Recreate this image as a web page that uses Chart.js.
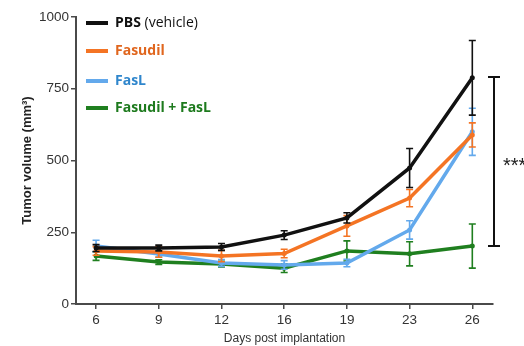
<!DOCTYPE html>
<html>
<head>
<meta charset="utf-8">
<script src="https://cdn.jsdelivr.net/npm/chart.js@4"></script>
<style>
  html, body { margin: 0; padding: 0; background: #fff; }
  #wrap { width: 524px; height: 346px; }
</style>
</head>
<body>
<div id="wrap"><canvas id="tumorChart" width="524" height="346"></canvas></div>
<script>
// days post implantation
var days = ['6', '9', '12', '16', '19', '23', '26'];

// mean tumor volume (mm3) and error per group
var pbs = [195, 195, 199, 240, 300, 474, 788];
var pbsErr = [12, 10, 12, 15, 18, 68, 130];
var fasudil = [185, 181, 167, 176, 272, 369, 589];
var fasudilErr = [15, 18, 20, 15, 36, 30, 42];
var fasl = [202, 174, 143, 136, 143, 258, 600];
var faslErr = [20, 10, 12, 15, 13, 32, 82];
var combo = [167, 146, 139, 125, 185, 175, 202];
var comboErr = [15, 8, 10, 15, 35, 42, 77];

// significance bracket between PBS and Fasudil + FasL at day 26
var bracketLow = 202;
var bracketHigh = 791;
var bracketLabel = '***';

var groups = [
    { label: 'PBS', extra: ' (vehicle)', data: pbs, err: pbsErr, color: '#111111', text: '#111111', order: 1 },
    { label: 'Fasudil', extra: '', data: fasudil, err: fasudilErr, color: '#f47424', text: '#e0661e', order: 2 },
    { label: 'FasL', extra: '', data: fasl, err: faslErr, color: '#63a9ec', text: '#2f86cc', order: 3 },
    { label: 'Fasudil + FasL', extra: '', data: combo, err: comboErr, color: '#1f7f1f', text: '#1d7a1d', order: 4 }
];

var axisColor = '#4a4a4a';

var errorBars = {
    id: 'errorBars',
    afterDatasetDraw: function(chart, args) {
        var ds = chart.data.datasets[args.index];
        var meta = args.meta;
        var y = chart.scales.y;
        var ctx = chart.ctx;
        ctx.save();
        ctx.strokeStyle = ds.borderColor;
        ctx.lineWidth = 1.6;
        meta.data.forEach(function(pt, i) {
            var v = ds.data[i].y;
            var e = ds.errors[i];
            var top = y.getPixelForValue(v + e);
            var bot = y.getPixelForValue(v - e);
            ctx.beginPath();
            ctx.moveTo(pt.x, top);
            ctx.lineTo(pt.x, bot);
            ctx.moveTo(pt.x - 3.5, top);
            ctx.lineTo(pt.x + 3.5, top);
            ctx.moveTo(pt.x - 3.5, bot);
            ctx.lineTo(pt.x + 3.5, bot);
            ctx.stroke();
        });
        ctx.restore();
    }
};

var extras = {
    id: 'extras',
    afterDraw: function(chart) {
        var ctx = chart.ctx;
        var area = chart.chartArea;
        var y = chart.scales.y;

        // legend in the upper left of the plot
        ctx.save();
        var rows = [23, 51, 81, 108];
        groups.forEach(function(g, i) {
            var ry = rows[i];
            ctx.fillStyle = g.color;
            ctx.fillRect(area.left + 10, ry - 2, 22, 4);
            ctx.font = 'bold 14px "Open Sans"';
            ctx.textBaseline = 'middle';
            ctx.fillStyle = g.text;
            ctx.fillText(g.label, area.left + 39, ry);
            if (g.extra) {
                var w = ctx.measureText(g.label).width;
                ctx.font = '14px "Open Sans"';
                ctx.fillText(g.extra, area.left + 39 + w, ry);
            }
        });

        // bracket
        var bx = area.right + 1;
        var t = y.getPixelForValue(bracketHigh);
        var b = y.getPixelForValue(bracketLow);
        ctx.strokeStyle = '#111';
        ctx.lineWidth = 2;
        ctx.beginPath();
        ctx.moveTo(bx, t);
        ctx.lineTo(bx, b);
        ctx.moveTo(bx - 6, t);
        ctx.lineTo(bx + 6, t);
        ctx.moveTo(bx - 6, b);
        ctx.lineTo(bx + 6, b);
        ctx.stroke();
        ctx.fillStyle = '#222';
        ctx.font = '20px "Liberation Sans"';
        ctx.textBaseline = 'middle';
        ctx.fillText(bracketLabel, bx + 9, (t + b) / 2 + 5);
        ctx.restore();
    }
};

var ctx = document.getElementById('tumorChart').getContext('2d');
var tumorChart = new Chart(ctx, {
    type: 'line',
    data: {
        datasets: groups.map(function(g) {
            return {
                label: g.label + g.extra,
                data: g.data.map(function(v, i) { return { x: i, y: v }; }),
                errors: g.err,
                borderColor: g.color,
                backgroundColor: g.color,
                borderWidth: 3.5,
                pointRadius: 2.5,
                pointBorderWidth: 0,
                tension: 0,
                order: g.order
            };
        })
    },
    options: {
        responsive: false,
        animation: false,
        layout: {
            padding: { top: 17, right: 31, left: 0, bottom: 0 }
        },
        scales: {
            x: {
                type: 'linear',
                min: -0.32,
                max: 6.33,
                afterBuildTicks: function(scale) {
                    scale.ticks = days.map(function(d, i) { return { value: i }; });
                },
                afterFit: function(scale) { scale.height = 42; },
                ticks: {
                    callback: function(value) { return days[value]; },
                    color: '#333',
                    font: { family: 'Liberation Sans', size: 13.5 },
                    padding: 3,
                    maxRotation: 0
                },
                grid: {
                    drawOnChartArea: false,
                    tickLength: 5,
                    color: axisColor,
                    lineWidth: 1.5
                },
                border: { color: axisColor, width: 2 },
                title: {
                    display: true,
                    text: 'Days post implantation',
                    color: '#333',
                    font: { family: 'Liberation Sans', size: 12 },
                    padding: { top: 0, bottom: 0 }
                }
            },
            y: {
                min: 0,
                max: 1000,
                afterFit: function(scale) { scale.width = 76; },
                ticks: {
                    stepSize: 250,
                    callback: function(value) { return String(value); },
                    color: '#333',
                    font: { family: 'Liberation Sans', size: 13.5 },
                    padding: 2
                },
                grid: {
                    drawOnChartArea: false,
                    tickLength: 5,
                    color: axisColor,
                    lineWidth: 1.5
                },
                border: { color: axisColor, width: 2 },
                title: {
                    display: true,
                    text: 'Tumor volume (mm³)',
                    color: '#222',
                    font: { family: 'Liberation Sans', size: 13, weight: 'bold' },
                    padding: { top: 20, bottom: 0 }
                }
            }
        },
        plugins: {
            legend: { display: false },
            tooltip: { enabled: false }
        }
    },
    plugins: [errorBars, extras]
});
</script>
</body>
</html>
